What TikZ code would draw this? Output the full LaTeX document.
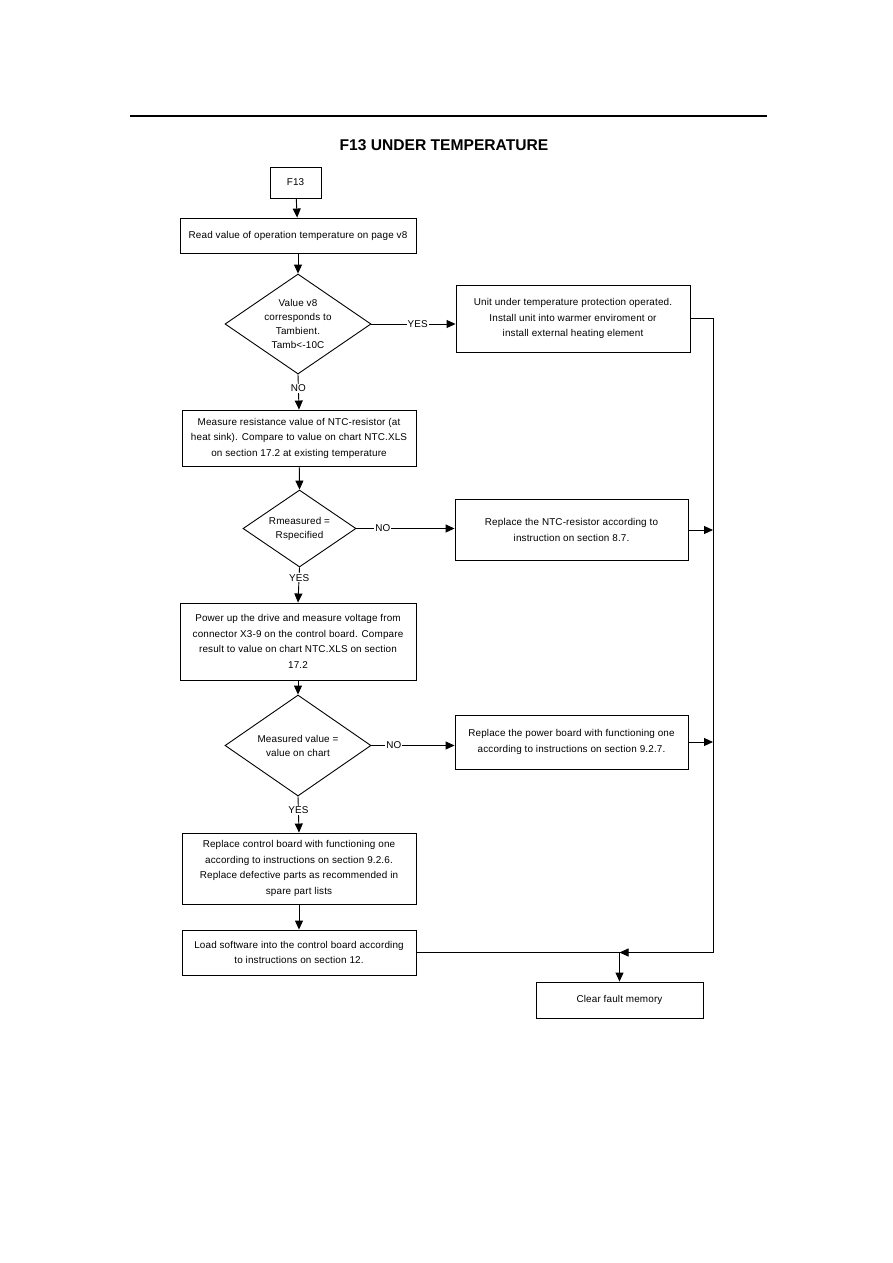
\documentclass[tikz,border=0pt]{standalone}
\usepackage{fontspec}
\setmainfont{Liberation Sans}
\newfontfamily\bodyfont[LetterSpace=1.5]{Liberation Sans}
\usetikzlibrary{arrows.meta,shapes.geometric}
\begin{document}
\begin{tikzpicture}[x=1pt,y=-1pt,
  txt/.style={font=\bodyfont\fontsize{9.9}{15.5}\selectfont},
  box/.style={draw,line width=0.9pt,inner sep=0pt,align=center,txt},
  dia/.style={draw,diamond,line width=0.9pt,inner sep=0pt},
  dtext/.style={align=center,inner sep=0pt,font=\bodyfont\fontsize{9.9}{14}\selectfont},
  lbl/.style={fill=white,inner sep=1pt,txt},
  arr/.style={-{Triangle[length=9pt,width=8pt]},line width=0.9pt},
  ln/.style={line width=0.9pt}]
\useasboundingbox[fill=white] (0,0) rectangle (893,1263);

% top rule and title
\coordinate (ruleL) at (130,116);
\coordinate (ruleR) at (767,116);
\draw[line width=1.2pt] (ruleL) -- (ruleR);
\node[font=\fontsize{15.6}{18}\bfseries\selectfont] (title) at (444,145) {F13 UNDER TEMPERATURE};

% boxes
\node[box,minimum width=51,minimum height=31] (f13) at (295.5,182.5) {F13};
\node[box,minimum width=236,minimum height=35] (read) at (298,235.5) {Read value of operation temperature on page v8};
\node[dia,minimum width=146,minimum height=100] (d1) at (298,324) {};
\node[dtext] (d1t) at (d1.center) {Value v8\\corresponds to\\Tambient.\\Tamb<-10C};
\node[box,minimum width=234,minimum height=67] (unit) at (573,318.5) {Unit under temperature protection operated.\\Install unit into warmer enviroment or\\install external heating element};
\node[box,minimum width=234,minimum height=56] (meas) at (299,438) {Measure resistance value of NTC-resistor (at\\heat sink). Compare to value on chart NTC.XLS\\on section 17.2 at existing temperature};
\node[dia,minimum width=113,minimum height=77] (d2) at (299.5,528.5) {};
\node[dtext] (d2t) at (d2.center) {Rmeasured =\\Rspecified};
\node[box,minimum width=233,minimum height=61] (ntc) at (571.5,530) {Replace the NTC-resistor according to\\instruction on section 8.7.};
\node[box,minimum width=236,minimum height=77] (power) at (298,641.5) {Power up the drive and measure voltage from\\connector X3-9 on the control board. Compare\\result to value on chart NTC.XLS on section\\17.2};
\node[dia,minimum width=146,minimum height=101] (d3) at (298,745.5) {};
\node[dtext] (d3t) at (d3.center) {Measured value =\\value on chart};
\node[box,minimum width=233,minimum height=54] (pb) at (571.5,742) {Replace the power board with functioning one\\according to instructions on section 9.2.7.};
\node[box,minimum width=234,minimum height=71] (cb) at (299,868.5) {Replace control board with functioning one\\according to instructions on section 9.2.6.\\Replace defective parts as recommended in\\spare part lists};
\node[box,minimum width=234,minimum height=45] (load) at (299,952.5) {Load software into the control board according\\to instructions on section 12.};
\node[box,minimum width=167,minimum height=36] (clear) at (619.5,1000) {Clear fault memory};

\coordinate (rail) at (713,0);
\coordinate (merge) at (load.east -| clear.north);

% main flow
\draw[arr] (f13) -- (read);
\draw[arr] (read) -- (d1.north);
\draw[arr] (d1.east) -- (d1.east -| unit.west) node[lbl,pos=0.55] {YES};
\draw[arr] (d1.south) -- (meas.north) node[lbl,pos=0.4] {NO};
\draw[arr] (meas) -- (d2.north);
\draw[arr] (d2.east) -- (d2.east -| ntc.west) node[lbl,pos=0.27] {NO};
\draw[arr] (d2.south) -- (power.north) node[lbl,pos=0.3] {YES};
\draw[arr] (power) -- (d3.north);
\draw[arr] (d3.east) -- (d3.east -| pb.west) node[lbl,pos=0.27] {NO};
\draw[arr] (d3.south) -- (cb.north) node[lbl,pos=0.38] {YES};
\draw[arr] (cb) -- (load);

% right rail
\draw[ln] (unit.east) -- (unit.east -| rail) -- (merge -| rail);
\draw[arr] (merge -| rail) -- (merge);
\draw[arr] (ntc.east) -- (ntc.east -| rail);
\draw[arr] (pb.east) -- (pb.east -| rail);
\draw[ln] (load.east) -- (merge);
\draw[arr] (merge) -- (clear.north);
\end{tikzpicture}
\end{document}
